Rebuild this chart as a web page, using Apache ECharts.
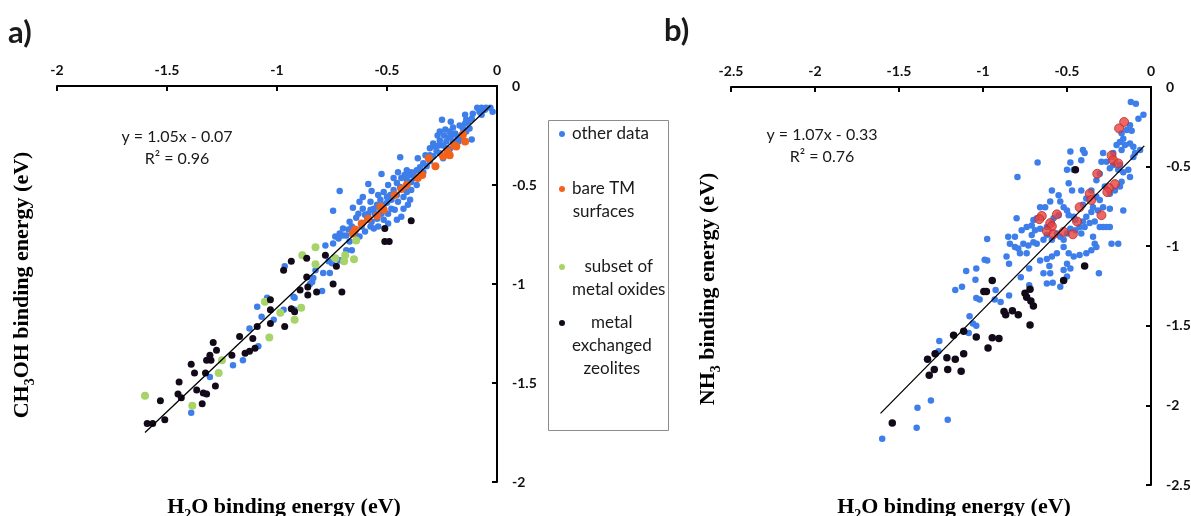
<!DOCTYPE html>
<html><head><meta charset="utf-8">
<script src="https://cdn.jsdelivr.net/npm/echarts@6/dist/echarts.min.js"></script>
<style>html,body{margin:0;padding:0;background:#fff}#chart{width:1191px;height:516px}</style>
</head><body><div id="chart"></div>
<script>
// ---------- Panel a : CH3OH vs H2O ----------
const aOther = [[-0.09,-0.11],[-0.07,-0.11],[-0.055,-0.12],[-0.05,-0.11],[-0.03,-0.11],[-0.02,-0.13],[-0.08,-0.13],[-0.11,-0.14],[-0.14,-0.17],[-0.13,-0.18],[-0.145,-0.19],[-0.17,-0.20],[-0.20,-0.21],[-0.25,-0.17],[-0.21,-0.18],[-0.27,-0.25],[-0.26,-0.23],[-0.24,-0.25],[-0.22,-0.26],[-0.21,-0.255],[-0.19,-0.24],[-0.18,-0.255],[-0.17,-0.265],[-0.16,-0.245],[-0.115,-0.27],[-0.29,-0.29],[-0.305,-0.315],[-0.28,-0.305],[-0.265,-0.30],[-0.245,-0.30],[-0.23,-0.28],[-0.305,-0.35],[-0.275,-0.33],[-0.245,-0.365],[-0.215,-0.32],[-0.44,-0.36],[-0.335,-0.39],[-0.35,-0.41],[-0.365,-0.425],[-0.38,-0.44],[-0.395,-0.45],[-0.375,-0.465],[-0.36,-0.46],[-0.42,-0.45],[-0.41,-0.475],[-0.435,-0.465],[-0.455,-0.49],[-0.44,-0.51],[-0.47,-0.525],[-0.455,-0.55],[-0.485,-0.55],[-0.48,-0.575],[-0.50,-0.59],[-0.515,-0.60],[-0.54,-0.55],[-0.53,-0.625],[-0.56,-0.62],[-0.575,-0.625],[-0.585,-0.645],[-0.60,-0.65],[-0.59,-0.675],[-0.57,-0.685],[-0.545,-0.67],[-0.515,-0.675],[-0.495,-0.645],[-0.48,-0.62],[-0.465,-0.625],[-0.395,-0.575],[-0.405,-0.60],[-0.425,-0.62],[-0.39,-0.525],[-0.39,-0.485],[-0.525,-0.445],[-0.585,-0.495],[-0.57,-0.53],[-0.61,-0.56],[-0.625,-0.585],[-0.655,-0.615],[-0.715,-0.53],[-0.745,-0.63],[-0.67,-0.685],[-0.70,-0.72],[-0.715,-0.745],[-0.735,-0.76],[-0.685,-0.755],[-0.645,-0.745],[-0.625,-0.76],[-0.60,-0.735],[-0.56,-0.72],[-0.54,-0.71],[-0.495,-0.695],[-0.615,-0.71],[-0.455,-0.675],[-0.435,-0.66],
[-0.45,-0.435],[-0.41,-0.425],[-0.39,-0.435],[-0.47,-0.465],[-0.495,-0.50],[-0.515,-0.535],[-0.50,-0.56],[-0.53,-0.575],[-0.545,-0.60],[-0.45,-0.585],[-0.425,-0.56],[-0.41,-0.535],[-0.365,-0.50],[-0.335,-0.435],[-0.32,-0.405],[-0.305,-0.38],[-0.29,-0.355],[-0.26,-0.34],[-0.23,-0.315],[-0.20,-0.28],[-0.175,-0.28],[-0.14,-0.23],[-0.125,-0.215],[-0.155,-0.215],[-0.575,-0.585],[-0.555,-0.645],[-0.61,-0.62],[-0.63,-0.645],[-0.64,-0.665],[-0.66,-0.71],[-0.675,-0.725],[-0.575,-0.71],[-0.525,-0.645],[-0.36,-0.365],[-0.325,-0.35],[-0.26,-0.275],[-0.235,-0.22],[-0.215,-0.23],[-0.145,-0.145],[-0.115,-0.165],[-0.07,-0.145],
[-0.965,-0.91],[-0.78,-0.805],[-0.745,-0.795],[-0.72,-0.77],[-0.70,-0.755],[-0.67,-0.785],[-0.75,-0.895],[-0.79,-0.945],[-0.76,-0.945],[-0.795,-1.035],[-0.84,-0.99],[-0.835,-0.97],[-0.825,-0.93],[-0.765,-0.885],[-0.715,-0.88],[-0.685,-0.83],[-0.66,-0.83],[-0.85,-1.00],[-0.925,-1.065],[-0.92,-1.07],[-1.09,-1.115],[-1.07,-1.165],[-1.015,-1.18],[-0.97,-1.13],[-0.92,-1.13],[-1.125,-1.225],[-1.085,-1.315],[-1.155,-1.385],[-1.20,-1.41],[-1.305,-1.47],[-1.39,-1.65],[-1.045,-1.07]];
const aBareTM = [[-0.155,-0.245],[-0.145,-0.28],[-0.185,-0.305],[-0.195,-0.30],[-0.225,-0.33],[-0.215,-0.35],[-0.245,-0.355],[-0.31,-0.365],[-0.28,-0.405],[-0.34,-0.45],[-0.36,-0.465],[-0.41,-0.50],[-0.435,-0.52],[-0.465,-0.55],[-0.53,-0.61],[-0.515,-0.625],[-0.545,-0.655],[-0.585,-0.67],[-0.615,-0.695],[-0.645,-0.725],[-0.655,-0.745]];
const aOxides = [[-0.64,-0.78],[-0.825,-0.815],[-0.885,-0.855],[-0.825,-0.90],[-0.735,-0.87],[-0.69,-0.855],[-0.695,-0.885],[-0.65,-0.875],[-1.055,-1.09],[-0.985,-1.145],[-0.89,-1.12],[-0.92,-1.18],[-1.035,-1.27],[-1.25,-1.385],[-1.265,-1.45],[-1.60,-1.565],[-1.385,-1.615]];
const aZeolites = [[-0.39,-0.68],[-0.51,-0.72],[-0.51,-0.785],[-0.49,-0.785],[-0.935,-0.885],[-0.97,-0.93],[-0.865,-0.87],[-0.78,-0.855],[-0.73,-0.91],[-0.865,-0.965],[-0.895,-1.03],[-0.86,-1.015],[-0.86,-1.055],[-0.82,-1.04],[-0.745,-1.00],[-0.705,-1.04],[-1.03,-1.08],[-1.03,-1.13],[-0.935,-1.125],[-0.92,-1.14],[-1.03,-1.20],[-0.965,-1.215],[-1.17,-1.265],[-1.11,-1.275],[-1.09,-1.215],[-1.29,-1.295],[-1.275,-1.335],[-1.305,-1.36],[-1.30,-1.385],[-1.32,-1.385],[-1.205,-1.36],[-1.145,-1.35],[-1.125,-1.34],[-1.10,-1.325],[-1.39,-1.405],[-1.375,-1.45],[-1.325,-1.45],[-1.445,-1.495],[-1.365,-1.535],[-1.335,-1.55],[-1.32,-1.555],[-1.28,-1.515],[-1.45,-1.555],[-1.435,-1.575],[-1.53,-1.59],[-1.34,-1.605],[-1.59,-1.705],[-1.565,-1.705],[-1.51,-1.685]];
const aFit = [[-1.60,-1.75],[-0.03,-0.10]];
const aEquation = ['y = 1.05x - 0.07', 'R² = 0.96'];

// ---------- Panel b : NH3 vs H2O ----------
const bOther = [[-0.12,-0.095],[-0.09,-0.105],[-0.045,-0.175],[-0.075,-0.20],[-0.125,-0.24],[-0.145,-0.27],[-0.115,-0.275],[-0.175,-0.29],[-0.165,-0.325],[-0.185,-0.345],[-0.205,-0.365],[-0.155,-0.365],[-0.125,-0.355],[-0.105,-0.375],[-0.095,-0.415],[-0.175,-0.395],[-0.225,-0.415],[-0.285,-0.415],[-0.265,-0.47],[-0.295,-0.47],[-0.245,-0.51],[-0.225,-0.49],[-0.185,-0.49],[-0.195,-0.52],[-0.165,-0.535],[-0.135,-0.52],[-0.125,-0.565],[-0.175,-0.595],[-0.185,-0.625],[-0.215,-0.65],[-0.245,-0.67],[-0.275,-0.625],[-0.305,-0.545],[-0.325,-0.585],[-0.405,-0.395],[-0.395,-0.415],[-0.48,-0.405],[-0.415,-0.46],[-0.46,-0.52],[-0.50,-0.52],[-0.49,-0.605],[-0.47,-0.65],[-0.415,-0.65],[-0.385,-0.70],[-0.405,-0.74],[-0.355,-0.65],[-0.325,-0.69],[-0.305,-0.71],[-0.285,-0.755],[-0.245,-0.765],[-0.315,-0.775],[-0.345,-0.755],[-0.355,-0.785],[-0.385,-0.815],[-0.405,-0.845],[-0.425,-0.88],[-0.45,-0.835],[-0.46,-0.815],[-0.49,-0.805],[-0.50,-0.775],[-0.52,-0.755],[-0.54,-0.72],[-0.55,-0.68],[-0.59,-0.65],[-0.60,-0.72],[-0.63,-0.755],[-0.66,-0.755],[-0.55,-0.805],[-0.58,-0.825],[-0.59,-0.855],[-0.62,-0.88],[-0.66,-0.89],[-0.69,-0.90],[-0.71,-0.93],[-0.68,-0.825],[-0.70,-0.835],[-0.71,-0.87],[-0.74,-0.88],[-0.77,-0.90],[-0.80,-0.825],[-0.81,-0.94],[-0.85,-0.94],[-0.84,-0.985],[-0.81,-1.005],[-0.79,-1.015],[-0.78,-1.045],[-0.76,-0.985],[-0.73,-0.995],[-0.70,-0.975],[-0.68,-0.985],[-0.64,-0.96],[-0.62,-0.93],[-0.59,-0.96],[-0.56,-0.92],[-0.54,-0.94],[-0.52,-0.96],[-0.50,-0.92],[-0.48,-0.89],[-0.45,-0.90],[-0.415,-0.92],[-0.395,-0.88],[-0.365,-0.855],[-0.335,-0.845],[-0.305,-0.88],[-0.285,-0.88],[-0.265,-0.88],[-0.245,-0.88],[-0.235,-0.985],[-0.195,-0.985],[-0.345,-0.94],[-0.335,-0.985],[-0.325,-1.005],[-0.355,-1.025],[-0.385,-1.045],[-0.425,-1.055],[-0.46,-1.065],[-0.49,-1.045],[-0.52,-1.005],[-0.56,-1.045],[-0.59,-1.065],[-0.62,-1.08],[-0.66,-1.09],[-0.74,-1.045],[-0.86,-1.065],[-0.99,-1.085],[-0.975,-0.955],[-0.795,-0.565],[-0.675,-0.475],[-0.48,-0.475],[-0.165,-0.775],[-0.105,-0.44],[-0.065,-0.395],
[-1.60,-2.21],[-1.395,-2.14],[-1.21,-2.09],[-1.39,-2.015],[-1.31,-1.97],[-1.26,-1.595],[-1.265,-1.66],[-1.08,-1.44],[-1.06,-1.485],[-1.04,-1.50],[-1.085,-1.545],[-1.165,-1.275],[-1.125,-1.255],[-1.10,-1.155],[-1.04,-1.14],[-1.045,-1.21],[-1.04,-1.325],[-1.02,-1.335],[-0.975,-1.09],[-0.925,-1.275],[-0.93,-1.335],[-0.895,-1.35],[-0.845,-1.31],[-0.845,-1.11],[-0.775,-1.195],[-0.725,-1.14],[-0.725,-1.245],[-0.64,-1.17],[-0.605,-1.125],[-0.60,-1.17],[-0.62,-1.235],[-0.585,-1.23],[-0.52,-1.15],[-0.50,-1.11],[-0.48,-1.14],[-0.50,-1.19],[-0.54,-1.255],[-0.31,-1.17]];
const bBareTM = [[-0.16,-0.22],[-0.19,-0.26],[-0.235,-0.43],[-0.225,-0.46],[-0.195,-0.48],[-0.32,-0.545],[-0.215,-0.61],[-0.25,-0.635],[-0.26,-0.66],[-0.365,-0.67],[-0.355,-0.71],[-0.425,-0.755],[-0.295,-0.805],[-0.44,-0.845],[-0.56,-0.80],[-0.65,-0.81],[-0.665,-0.83],[-0.60,-0.855],[-0.59,-0.875],[-0.62,-0.905],[-0.58,-0.925],[-0.52,-0.91],[-0.465,-0.925]];
const bZeolites = [[-0.45,-0.52],[-0.945,-1.215],[-0.995,-1.285],[-0.98,-1.285],[-0.75,-1.295],[-0.72,-1.27],[-0.74,-1.32],[-0.715,-1.345],[-0.70,-1.375],[-0.875,-1.41],[-0.865,-1.43],[-0.825,-1.405],[-0.79,-1.43],[-0.72,-1.495],[-0.52,-1.215],[-0.395,-1.125],[-1.175,-1.56],[-1.115,-1.535],[-1.04,-1.57],[-0.945,-1.575],[-0.905,-1.58],[-0.97,-1.64],[-1.115,-1.675],[-1.285,-1.675],[-1.33,-1.71],[-1.215,-1.70],[-1.165,-1.71],[-1.29,-1.775],[-1.32,-1.81],[-1.21,-1.775],[-1.13,-1.785],[-1.54,-2.11]];
const bFit = [[-1.61,-2.05],[-0.04,-0.37]];
const bEquation = ['y = 1.07x - 0.33', 'R² = 0.76'];

// ---------- axes / legend text ----------
const aRange = [-2, 0];
const bRange = [-2.5, 0];
const tickStep = 0.5;
const legendNames = ['other data', 'bare TM surfaces', 'subset of metal oxides', 'metal exchanged zeolites'];
const legendLines = [['other data'], ['bare TM', 'surfaces'], ['subset of', 'metal oxides'], ['metal', 'exchanged', 'zeolites']];

const C_BLUE = '#3d7eea', C_ORANGE = '#f2621c', C_GREEN = '#a6d468', C_BLACK = '#120a18', C_RED = '#e8423f';
const AX = '#000';
const LH = 23;
const legendFirstLine = [137, 215, 293, 372];

function xAx(gi, r) {
  return {gridIndex: gi, type: 'value', position: 'top', min: r[0], max: r[1], interval: tickStep,
    axisLine: {show: true, onZero: false, lineStyle: {color: AX, width: 2}},
    axisTick: {show: true, inside: true, length: 5, lineStyle: {color: AX, width: 2}},
    axisLabel: {show: true, margin: 9, showMinLabel: true, showMaxLabel: true, fontFamily: 'Lato', fontWeight: 'bold', fontSize: 14, color: '#111'},
    splitLine: {show: false}};
}
function yAx(gi, r) {
  return {gridIndex: gi, type: 'value', position: 'right', min: r[0], max: r[1], interval: tickStep,
    axisLine: {show: true, onZero: false, lineStyle: {color: AX, width: 2}},
    axisTick: {show: true, inside: true, length: 5, lineStyle: {color: AX, width: 2}},
    axisLabel: {show: true, margin: 15, showMinLabel: true, showMaxLabel: true, fontFamily: 'Lato', fontWeight: 'bold', fontSize: 14, color: '#111'},
    splitLine: {show: false}};
}
function sc(name, gi, data, color, size, extra) {
  return Object.assign({type: 'scatter', name: name, xAxisIndex: gi, yAxisIndex: gi, data: data,
    symbol: 'circle', symbolSize: size, itemStyle: {color: color, opacity: 1}, emphasis: {disabled: true}}, extra || {});
}
function fit(gi, data) {
  return {type: 'line', name: 'fit', xAxisIndex: gi, yAxisIndex: gi, data: data, symbol: 'none', showSymbol: false,
    lineStyle: {color: '#000', width: 1.3}, silent: true, z: 6};
}
const serif = 'Liberation Serif';
const titleRich = {
  m: {fontFamily: serif, fontWeight: 'bold', fontSize: 22, lineHeight: 30, color: '#111'},
  s: {fontFamily: serif, fontWeight: 'bold', fontSize: 14, lineHeight: 19, verticalAlign: 'bottom', color: '#111'}
};
function txt(x, y, text, size, weight, align) {
  return {type: 'text', x: x, y: y, style: {text: text, fontFamily: 'Lato', fontSize: size, fontWeight: weight || 'normal', fill: '#1a1a1a', align: align || 'center', verticalAlign: 'middle'}};
}

const chart = echarts.init(document.getElementById('chart'), null, {renderer: 'canvas'});
chart.setOption({
  animation: false,
  backgroundColor: '#fff',
  grid: [
    {left: 57, right: 694, top: 86, bottom: 34, outerBoundsMode: 'none', containLabel: false},
    {left: 731, right: 40, top: 87, bottom: 31, outerBoundsMode: 'none', containLabel: false}
  ],
  xAxis: [xAx(0, aRange), xAx(1, bRange)],
  yAxis: [yAx(0, aRange), yAx(1, bRange)],
  legend: legendLines.map((lines, i) => ({
    orient: 'vertical', left: 559, top: legendFirstLine[i] - (2 * lines.length - 1) * LH / 2,
    padding: 0, itemWidth: 6, itemHeight: 6, icon: 'circle', itemGap: 0,
    data: [legendNames[i]],
    formatter: () => lines.map(t => '{c|' + t + '}').join('\n'),
    textStyle: {padding: [(lines.length - 1) * LH, 0, 0, 2],
      rich: {c: {align: 'center', fontFamily: 'Lato', fontSize: 17, lineHeight: LH, color: '#1a1a1a'}}}
  })),
  series: [
    sc(legendNames[0], 0, aOther, C_BLUE, 6.5, {z: 2}),
    sc(legendNames[1], 0, aBareTM, C_ORANGE, 8, {z: 3}),
    sc(legendNames[2], 0, aOxides, C_GREEN, 8, {z: 4}),
    sc(legendNames[3], 0, aZeolites, C_BLACK, 7, {z: 4}),
    fit(0, aFit),
    sc(legendNames[0], 1, bOther, C_BLUE, 6.5, {z: 2}),
    sc(legendNames[1], 1, bBareTM, C_RED, 9, {z: 3, itemStyle: {color: C_RED, borderColor: '#b8302c', borderWidth: 1}}),
    sc(legendNames[3], 1, bZeolites, C_BLACK, 7.5, {z: 4}),
    fit(1, bFit)
  ],
  graphic: [
    {type: 'rect', z: -1, shape: {x: 548.5, y: 120.5, width: 120, height: 310}, style: {fill: '#fff', stroke: '#8c8c8c', lineWidth: 1}},
    txt(8, 33, 'a)', 31, 'bold', 'left'),
    txt(664, 31, 'b)', 31, 'bold', 'left'),
    txt(177, 137, aEquation[0], 16),
    txt(177, 159, aEquation[1], 16),
    txt(822, 135, bEquation[0], 16),
    txt(822, 157, bEquation[1], 16),
    {type: 'text', x: 284, y: 507, style: {text: '{m|H}{s|2}{m|O binding energy (eV)}', rich: titleRich, align: 'center', verticalAlign: 'middle'}},
    {type: 'text', x: 954, y: 507, style: {text: '{m|H}{s|2}{m|O binding energy (eV)}', rich: titleRich, align: 'center', verticalAlign: 'middle'}},
    {type: 'text', x: 22, y: 285, rotation: Math.PI / 2, style: {text: '{m|CH}{s|3}{m|OH binding energy (eV)}', rich: titleRich, align: 'center', verticalAlign: 'middle'}},
    {type: 'text', x: 708, y: 289, rotation: Math.PI / 2, style: {text: '{m|NH}{s|3}{m| binding energy (eV)}', rich: titleRich, align: 'center', verticalAlign: 'middle'}}
  ]
});
</script></body></html>
